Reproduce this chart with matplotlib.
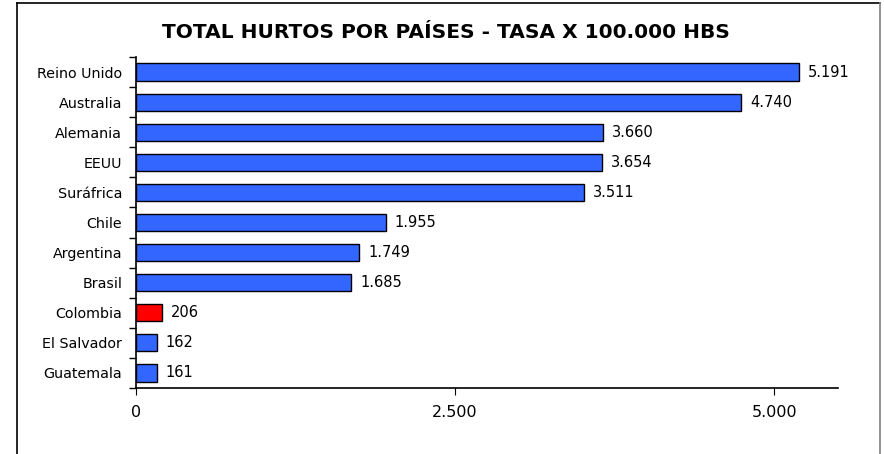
import numpy as np
import matplotlib.pyplot as plt
from matplotlib.lines import Line2D

paises = ['Reino Unido', 'Australia', 'Alemania', 'EEUU', 'Suráfrica', 'Chile',
          'Argentina', 'Brasil', 'Colombia', 'El Salvador', 'Guatemala']
tasas = [5191, 4740, 3660, 3654, 3511, 1955, 1749, 1685, 206, 162, 161]
colores = ['#3366ff'] * 8 + ['#ff0000'] + ['#3366ff'] * 2
xticks = [0, 2500, 5000]
xtick_labels = ['0', '2.500', '5.000']


def fmt(v):
    return f'{v:,}'.replace(',', '.')


fig = plt.figure(figsize=(8.84, 4.54), dpi=100)
ax = fig.add_axes([136 / 884, 1 - 388 / 454, 702 / 884, 331 / 454])

y = np.arange(len(paises))
ax.barh(y, tasas, height=0.57, color=colores, edgecolor='black', linewidth=1)
for yi, v in zip(y, tasas):
    ax.text(v + 70, yi, fmt(v), va='center', ha='left', fontsize=10.5)

ax.set_ylim(len(paises) - 0.5, -0.5)
ax.set_xlim(0, 5500)
ax.set_yticks(y)
ax.set_yticklabels(paises, fontsize=10.3)
ax.set_yticks(np.arange(len(paises) + 1) - 0.5, minor=True)
ax.tick_params(axis='y', which='major', length=0, pad=10)
ax.tick_params(axis='y', which='minor', length=5, direction='out', width=1)
ax.set_xticks(xticks)
ax.set_xticklabels(xtick_labels, fontsize=11.5)
ax.tick_params(axis='x', length=5, direction='out', pad=7)

for s in ['top', 'right']:
    ax.spines[s].set_visible(False)
ax.spines['left'].set_linewidth(1.2)
ax.spines['bottom'].set_linewidth(1.2)

fig.text(446 / 884, 1 - 32 / 454, 'TOTAL HURTOS POR PAÍSES - TASA X 100.000 HBS',
         ha='center', va='center', fontsize=14.5, fontweight='bold')

# marco del grafico
fig.add_artist(Line2D([17 / 884, 17 / 884], [0, 1 - 3 / 454], color='black', lw=1.2))
fig.add_artist(Line2D([17 / 884, 880 / 884], [1 - 3 / 454, 1 - 3 / 454], color='black', lw=1.2))
fig.add_artist(Line2D([880 / 884, 880 / 884], [0, 1 - 3 / 454], color='#808080', lw=1.2))

fig.savefig('out.png', dpi=100)
